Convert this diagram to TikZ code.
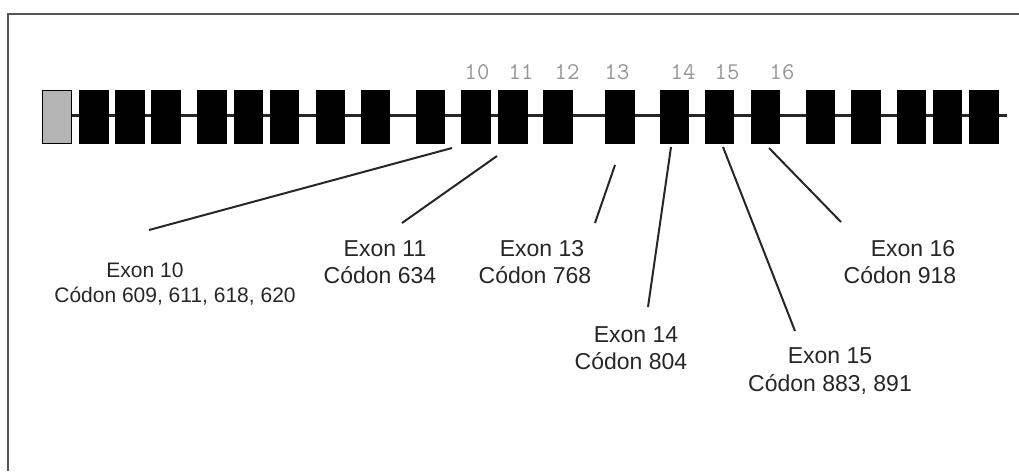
\documentclass[tikz,border=0pt]{standalone}
\usepackage{fontspec}
\setmainfont{Liberation Sans}
\definecolor{numgray}{HTML}{959595}
\definecolor{framegray}{HTML}{555555}
\definecolor{firstgray}{HTML}{B4B4B4}
\tikzset{
  exonbox/.style={draw=black, fill=black, minimum width=28.5pt, minimum height=53pt, inner sep=0pt},
  firstbox/.style={exonbox, fill=firstgray, line width=1pt},
  numlabel/.style={font=\ttfamily\fontsize{24}{26}\selectfont, text=numgray, inner sep=0pt},
  lbl/.style={font=\fontsize{23}{27}\selectfont, anchor=base, inner sep=0pt, text=black!85},
  lblsmall/.style={font=\fontsize{21}{24}\selectfont, anchor=base, inner sep=0pt, text=black!85},
  pointer/.style={line width=2pt, black!85},
  intron/.style={line width=3pt, black!85},
  frameline/.style={line width=1.3pt, framegray}
}
\begin{document}
\begin{tikzpicture}[x=1pt,y=-1pt]
\useasboundingbox (0,0) rectangle (1019,471);
% frame (top and left edges only)
\coordinate (fl) at (8,471);
\coordinate (fc) at (8,14);
\coordinate (fr) at (1019,14);
\draw[frameline] (fl) -- (fc) -- (fr);
% intron line
\coordinate (ls) at (71,115);
\coordinate (le) at (1007,115);
\draw[intron] (ls) -- (le);
% exons
\node[firstbox] (b0) at (57,116.5) {};
\foreach \x [count=\i] in {93.5,129.5,165.5,211.5,248,284,330,375,430,475.5,512.5,557.5,619.5,674,719,765,820,865.5,911,947,983.5}
  \node[exonbox] (b\i) at (\x,116.5) {};
% exon numbers
\node[numlabel] (n10) at (477,72) {10};
\node[numlabel] (n11) at (521,72) {11};
\node[numlabel] (n12) at (567,72) {12};
\node[numlabel] (n13) at (617,72) {13};
\node[numlabel] (n14) at (683,72) {14};
\node[numlabel] (n15) at (727,72) {15};
\node[numlabel] (n16) at (782,72) {16};
% labels
\node[lblsmall] (e10) at (145,277.5) {Exon 10};
\node[lblsmall] (c10) at (175,302) {Códon 609, 611, 618, 620};
\node[lbl] (e11) at (385,256) {Exon 11};
\node[lbl] (c11) at (380,283) {Códon 634};
\node[lbl] (e13) at (542,256) {Exon 13};
\node[lbl] (c13) at (535,283) {Códon 768};
\node[lbl] (e14) at (636,342) {Exon 14};
\node[lbl] (c14) at (631,369) {Códon 804};
\node[lbl] (e15) at (830,363) {Exon 15};
\node[lbl] (c15) at (830,391) {Códon 883, 891};
\node[lbl] (e16) at (913,256) {Exon 16};
\node[lbl] (c16) at (900,283) {Códon 918};
% pointer lines
\coordinate (p10a) at (452,148); \coordinate (p10b) at (149,230);
\coordinate (p11a) at (497,156); \coordinate (p11b) at (402,223);
\coordinate (p13a) at (615,165); \coordinate (p13b) at (595,223);
\coordinate (p14a) at (671,147); \coordinate (p14b) at (648,307);
\coordinate (p15a) at (723,147); \coordinate (p15b) at (795,331);
\coordinate (p16a) at (769,148); \coordinate (p16b) at (841,222);
\draw[pointer] (p10a) -- (p10b);
\draw[pointer] (p11a) -- (p11b);
\draw[pointer] (p13a) -- (p13b);
\draw[pointer] (p14a) -- (p14b);
\draw[pointer] (p15a) -- (p15b);
\draw[pointer] (p16a) -- (p16b);
\end{tikzpicture}
\end{document}
